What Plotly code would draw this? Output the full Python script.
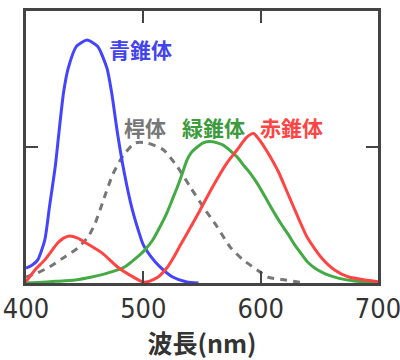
import plotly.graph_objects as go

# ---- data ----
blue_wl = [400, 405, 410, 416, 420, 425, 428, 432, 436, 443, 452, 461, 469, 473, 478, 484, 490, 496, 500, 506, 514, 525, 537, 547]
blue_val = [0.055, 0.065, 0.085, 0.158, 0.28, 0.43, 0.55, 0.70, 0.79, 0.87, 0.893, 0.87, 0.79, 0.70, 0.55, 0.40, 0.28, 0.19, 0.14, 0.10, 0.06, 0.022, 0.004, 0.0]

red_wl = [400, 408, 416, 427, 432, 437, 444, 450, 465, 478, 493, 500, 506, 512, 520, 525, 531, 537, 548, 559, 571, 580, 588, 594, 600, 606, 615, 624, 632, 640, 652, 663, 675, 689, 700]
red_val = [0.005, 0.05, 0.085, 0.147, 0.165, 0.173, 0.165, 0.15, 0.11, 0.059, 0.018, 0.003, 0.008, 0.02, 0.055, 0.088, 0.135, 0.18, 0.265, 0.353, 0.44, 0.49, 0.535, 0.55, 0.52, 0.48, 0.41, 0.32, 0.24, 0.165, 0.092, 0.048, 0.022, 0.011, 0.005]

green_wl = [400, 410, 425, 442, 456, 470, 484, 496, 501, 508, 514, 520, 525, 529, 533, 537, 541, 546, 551, 557, 563, 568, 574, 580, 586, 591, 598, 606, 612, 618, 624, 629, 635, 640, 646, 652, 659, 666, 680, 700]
green_val = [0.0, 0.002, 0.006, 0.011, 0.022, 0.037, 0.059, 0.10, 0.12, 0.158, 0.205, 0.257, 0.31, 0.353, 0.40, 0.45, 0.48, 0.50, 0.515, 0.52, 0.515, 0.507, 0.487, 0.463, 0.43, 0.404, 0.36, 0.30, 0.255, 0.213, 0.175, 0.14, 0.105, 0.077, 0.055, 0.04, 0.027, 0.018, 0.007, 0.002]

rod_wl = [400, 410, 420, 433, 444, 453, 459, 466, 474, 483, 493, 503, 517, 529, 540, 551, 563, 574, 585, 597, 606, 621, 632, 637]
rod_val = [0.022, 0.038, 0.059, 0.096, 0.128, 0.17, 0.22, 0.305, 0.40, 0.47, 0.515, 0.515, 0.49, 0.427, 0.353, 0.28, 0.206, 0.132, 0.085, 0.048, 0.022, 0.011, 0.004, 0.0]

x_ticks = [400, 500, 600, 700]
labels = ["青錐体", "桿体", "緑錐体", "赤錐体"]
label_x = [469, 482, 531, 598]
label_y = [0.86, 0.572, 0.572, 0.572]
label_colors = ["#4444ee", "#777777", "#3d9a3d", "#ff4444"]

CJK = "Noto Sans CJK JP"

fig = go.Figure()
fig.add_trace(go.Scatter(x=rod_wl, y=rod_val, mode="lines",
                         line=dict(color="#777777", width=3, dash="7px,6px", shape="spline", smoothing=0.6)))
fig.add_trace(go.Scatter(x=blue_wl, y=blue_val, mode="lines",
                         line=dict(color="#4444ff", width=3, shape="spline", smoothing=0.6)))
fig.add_trace(go.Scatter(x=green_wl, y=green_val, mode="lines",
                         line=dict(color="#44aa44", width=3, shape="spline", smoothing=0.6)))
fig.add_trace(go.Scatter(x=red_wl, y=red_val, mode="lines",
                         line=dict(color="#ff4444", width=3, shape="spline", smoothing=0.6)))

for t, x, y, c in zip(labels, label_x, label_y, label_colors):
    fig.add_annotation(x=x, y=y, text=t, showarrow=False, xanchor="left", yanchor="middle",
                       font=dict(family=CJK, size=21, color=c, weight="bold"))

fig.update_layout(
    width=400, height=360,
    margin=dict(l=26, r=22, t=11, b=77),
    paper_bgcolor="white", plot_bgcolor="white",
    showlegend=False,
    xaxis=dict(range=[400, 700], tickvals=x_ticks, ticktext=[str(v) for v in x_ticks],
               ticks="inside", ticklen=12, tickwidth=2, tickcolor="#444444",
               showline=True, linewidth=3, linecolor="#444444", mirror="ticks",
               showgrid=False, zeroline=False, automargin=False, ticklabeloverflow="allow",
               tickfont=dict(family="DejaVu Sans Condensed", size=27, color="#333333"),
               title=dict(text="波長(nm)", standoff=7,
                          font=dict(family=CJK, size=25, color="#333333", weight="bold"))),
    yaxis=dict(range=[0, 1], tickvals=[0.5], showticklabels=False,
               ticks="inside", ticklen=12, tickwidth=2, tickcolor="#444444",
               showline=True, linewidth=3, linecolor="#444444", mirror="ticks",
               showgrid=False, zeroline=False, automargin=False),
)

fig.write_html("out.html", config={"displayModeBar": False, "staticPlot": True},
               post_script="document.body.style.margin='0';")
